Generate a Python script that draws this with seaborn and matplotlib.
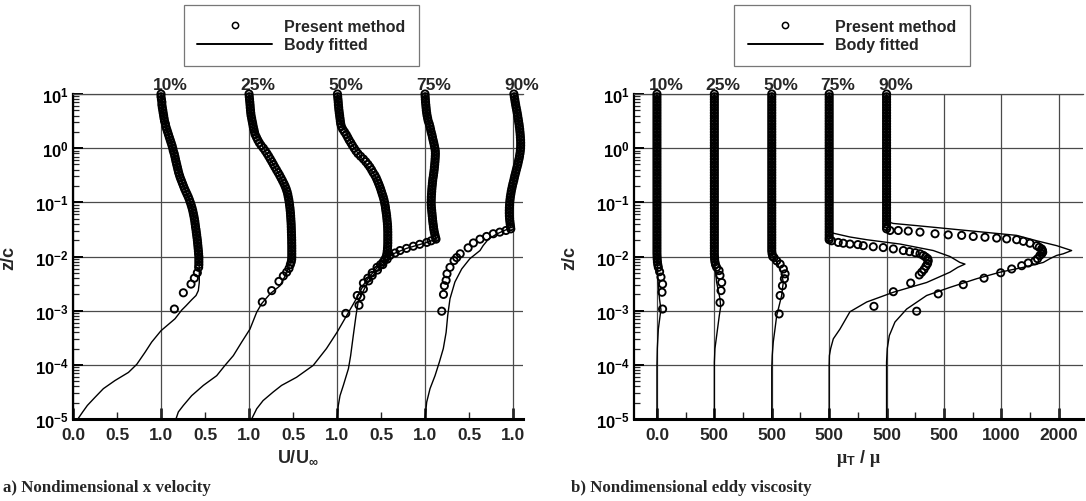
import numpy as np
import matplotlib
matplotlib.use("Agg")
import matplotlib.pyplot as plt
import matplotlib.ticker as mticker
from matplotlib.lines import Line2D
import seaborn as sns

sns.set_theme(style="white")
plt.rcParams["font.family"] = ["Liberation Sans", "DejaVu Sans"]
plt.rcParams["font.weight"] = "bold"
plt.rcParams["mathtext.fontset"] = "custom"
plt.rcParams["mathtext.rm"] = "Liberation Sans:bold"
plt.rcParams["mathtext.bf"] = "Liberation Sans:bold"
plt.rcParams["mathtext.it"] = "Liberation Serif"

# ---------------------------------------------------------------- data
STATIONS = ["10%", "25%", "50%", "75%", "90%"]

# log10(z/c) grid of the densely sampled "Present method" points
LOGZ_GRID = [1.00, 0.95, 0.90, 0.85, 0.80, 0.75, 0.70, 0.65, 0.60, 0.55,
             0.50, 0.45, 0.40, 0.35, 0.30, 0.25, 0.20, 0.15, 0.10, 0.05,
             0.00, -0.05, -0.10, -0.15, -0.20, -0.25, -0.30, -0.35, -0.40, -0.45,
             -0.50, -0.55, -0.60, -0.65, -0.70, -0.75, -0.80, -0.85, -0.90, -0.95,
             -1.00, -1.05, -1.10, -1.15, -1.20, -1.25, -1.30, -1.35, -1.40, -1.45,
             -1.50, -1.55, -1.60, -1.65, -1.70, -1.75, -1.80, -1.85, -1.90, -1.95,
             -2.00]

# ---- a) U/U_inf  -- Present method, dense part (on LOGZ_GRID)
U10_DENSE = [1.00, 1.00, 1.005, 1.01, 1.01, 1.015, 1.02, 1.025, 1.03, 1.035,
             1.04, 1.05, 1.055, 1.065, 1.075, 1.085, 1.095, 1.105, 1.115, 1.125,
             1.133, 1.14, 1.15, 1.157, 1.164, 1.171, 1.178, 1.186, 1.193, 1.20,
             1.21, 1.22, 1.232, 1.244, 1.256, 1.268, 1.282, 1.296, 1.31, 1.322,
             1.333, 1.343, 1.352, 1.36, 1.367, 1.373, 1.379, 1.384, 1.388, 1.392,
             1.397, 1.401, 1.405, 1.409, 1.413, 1.416, 1.419, 1.422, 1.425, 1.427,
             1.43]
U25_DENSE = [1.00, 1.003, 1.006, 1.009, 1.012, 1.014, 1.017, 1.02, 1.024, 1.03,
             1.036, 1.042, 1.048, 1.055, 1.062, 1.07, 1.085, 1.10, 1.117, 1.138,
             1.163, 1.185, 1.205, 1.224, 1.242, 1.26, 1.277, 1.294, 1.312, 1.33,
             1.348, 1.364, 1.38, 1.396, 1.41, 1.422, 1.432, 1.44, 1.446, 1.452,
             1.457, 1.461, 1.465, 1.468, 1.471, 1.473, 1.475, 1.477, 1.479, 1.48,
             1.481, 1.482, 1.483, 1.484, 1.485, 1.485, 1.486, 1.486, 1.486, 1.486,
             1.486]
U50_DENSE = [1.005, 1.008, 1.011, 1.014, 1.016, 1.019, 1.022, 1.026, 1.03, 1.034,
             1.038, 1.042, 1.05, 1.065, 1.085, 1.105, 1.122, 1.138, 1.157, 1.175,
             1.195, 1.215, 1.238, 1.268, 1.30, 1.327, 1.352, 1.374, 1.393, 1.41,
             1.43, 1.446, 1.459, 1.472, 1.484, 1.495, 1.505, 1.515, 1.525, 1.533,
             1.54, 1.546, 1.551, 1.555, 1.56, 1.564, 1.567, 1.57, 1.573, 1.575,
             1.576, 1.577, 1.577, 1.577, 1.577, 1.577, 1.576, 1.574, 1.571, 1.567,
             1.56]
U75_DENSE = [1.00, 1.002, 1.004, 1.006, 1.009, 1.012, 1.015, 1.019, 1.024, 1.03,
             1.037, 1.048, 1.056, 1.063, 1.07, 1.078, 1.085, 1.092, 1.099, 1.106,
             1.112, 1.117, 1.118, 1.117, 1.115, 1.113, 1.11, 1.107, 1.104, 1.10,
             1.096, 1.091, 1.087, 1.084, 1.081, 1.078, 1.076, 1.074, 1.072, 1.071,
             1.07, 1.071, 1.073, 1.076, 1.079, 1.082, 1.085, 1.088, 1.092, 1.096,
             1.10, 1.106, 1.113, 1.12]
U90_DENSE = [1.01, 1.015, 1.02, 1.025, 1.03, 1.036, 1.042, 1.048, 1.053, 1.058,
             1.063, 1.068, 1.072, 1.076, 1.079, 1.082, 1.084, 1.086, 1.087, 1.087,
             1.086, 1.083, 1.079, 1.074, 1.068, 1.061, 1.054, 1.046, 1.038, 1.03,
             1.022, 1.015, 1.008, 1.0, 0.993, 0.986, 0.98, 0.975, 0.97, 0.966,
             0.963, 0.961, 0.959, 0.958, 0.958, 0.959, 0.961, 0.964, 0.968, 0.972]

# ---- a) Present method, near-wall points
U10_WALL_LOGZ = [-2.05, -2.10, -2.15, -2.20, -2.30, -2.40, -2.51, -2.67, -2.97]
U10_WALL = [1.43, 1.43, 1.43, 1.428, 1.413, 1.379, 1.341, 1.254, 1.152]
U25_WALL_LOGZ = [-2.05, -2.10, -2.15, -2.22, -2.29, -2.36, -2.46, -2.63, -2.84]
U25_WALL = [1.485, 1.48, 1.47, 1.455, 1.428, 1.39, 1.34, 1.258, 1.151]
U50_WALL_LOGZ = [-2.05, -2.10, -2.15, -2.20, -2.30, -2.40, -2.49, -2.72, -3.05]
U50_WALL = [1.545, 1.525, 1.495, 1.455, 1.40, 1.35, 1.30, 1.23, 1.10]
U75_WALL_LOGZ = [-1.68, -1.71, -1.74, -1.775, -1.81, -1.85, -1.89, -1.935, -1.98,
                 -2.05, -2.15, -2.25, -2.35, -2.45, -2.6, -2.75, -2.9]
U75_WALL = [1.125, 1.07, 1.02, 0.94, 0.867, 0.79, 0.716, 0.66, 0.602,
            0.57, 0.52, 0.46, 0.40, 0.36, 0.30, 0.27, 0.25]
U90_WALL_LOGZ = [-1.49, -1.52, -1.55, -1.58, -1.63, -1.68, -1.75, -1.84, -1.95,
                 -2.02, -2.075, -2.2, -2.32, -2.44, -2.54, -2.70, -3.01]
U90_WALL = [0.975, 0.92, 0.85, 0.776, 0.70, 0.625, 0.55, 0.49, 0.40,
            0.36, 0.33, 0.284, 0.25, 0.24, 0.22, 0.21, 0.19]

# ---- a) Body fitted lines
U10_LINE_LOGZ = [1.0, 0.5, 0.0, -0.5, -1.0, -1.5, -2.0, -2.23, -2.48, -2.63, -2.72, -2.80,
                 -2.91, -2.99, -3.15, -3.37, -3.58, -3.77, -3.99, -4.14, -4.29, -4.44,
                 -4.60, -4.75, -4.87, -5.0]
U10_LINE = [1.0, 1.04, 1.133, 1.21, 1.333, 1.397, 1.43, 1.435, 1.435, 1.424, 1.398, 1.348,
            1.284, 1.235, 1.159, 1.0, 0.894, 0.818, 0.725, 0.63, 0.477, 0.345,
            0.25, 0.163, 0.11, 0.055]
U25_LINE_LOGZ = [1.0, 0.5, 0.0, -0.5, -1.0, -1.5, -2.0, -2.11, -2.30, -2.54, -2.69, -2.87,
                 -3.03, -3.34, -3.58, -3.83, -4.01, -4.20, -4.38, -4.57, -4.75, -4.87, -5.0]
U25_LINE = [1.0, 1.036, 1.163, 1.348, 1.457, 1.481, 1.486, 1.47, 1.43, 1.352, 1.239, 1.144,
            1.087, 1.011, 0.917, 0.822, 0.727, 0.633, 0.481, 0.348, 0.254, 0.197, 0.17]
U50_LINE_LOGZ = [1.0, 0.5, 0.0, -0.5, -1.0, -1.5, -2.0, -2.1, -2.2, -2.35, -2.5, -2.78,
                 -3.09, -3.40, -3.70, -4.01, -4.23, -4.38, -4.50, -4.66, -4.81, -5.0]
U50_LINE = [1.005, 1.038, 1.195, 1.43, 1.54, 1.576, 1.56, 1.52, 1.46, 1.38, 1.31, 1.22,
            1.11, 1.0, 0.88, 0.73, 0.54, 0.37, 0.276, 0.16, 0.088, 0.03]
U75_LINE_LOGZ = [1.0, 0.5, 0.0, -0.5, -1.0, -1.5, -1.65, -1.68, -1.75, -1.85, -1.95, -2.05,
                 -2.2, -2.4, -2.6, -2.84, -3.09, -3.46, -3.83, -4.07, -4.38, -4.57, -4.75, -5.0]
U75_LINE = [1.0, 1.037, 1.112, 1.096, 1.07, 1.10, 1.12, 1.13, 1.0, 0.79, 0.64, 0.57,
            0.49, 0.38, 0.31, 0.24, 0.216, 0.185, 0.155, 0.13, 0.072, 0.034, 0.015, 0.0]
U90_LINE_LOGZ = [1.0, 0.5, 0.0, -0.5, -1.0, -1.45, -1.5, -1.58, -1.68, -1.8, -1.89, -2.04,
                 -2.23, -2.47, -2.78, -3.09, -3.40, -3.70, -3.95, -4.2, -4.44, -4.69, -5.0]
U90_LINE = [1.01, 1.063, 1.086, 1.022, 0.963, 0.972, 0.93, 0.82, 0.72, 0.66, 0.625, 0.51,
            0.417, 0.34, 0.284, 0.258, 0.24, 0.208, 0.163, 0.114, 0.057, 0.019, 0.0]

# ---- b) mu_T/mu -- Present method, dense part (on LOGZ_GRID)
MU10_DENSE = [0, 0, 0, 0, 0, 0, 0, 0, 0, 0, 0, 0, 0, 0, 0, 0, 0, 0, 0, 0,
              0, 0, 0, 0, 0, 0, 0, 0, 0, 0, 0, 0, 0, 0, 0, 0, 0, 0, 0, 0,
              0, 0, 0, 0, 0, 0, 0, 0, 0, 0, 0, 0, 0, 0, 0, 0, 0, 0, 0, 0, 1]
MU25_DENSE = [0, 0, 0, 0, 0, 0, 0, 0, 0, 0, 0, 0, 0, 0, 0, 0, 0, 0, 0, 0,
              0, 0, 0, 0, 0, 0, 0, 0, 0, 0, 0, 0, 0, 0, 0, 0, 0, 0, 0, 0,
              0, 0, 0, 0, 0, 0, 0, 0, 0, 0, 0, 0, 0, 0, 0, 0, 0, 0, 0, 0, 1]
MU50_DENSE = [0, 0, 0, 0, 0, 0, 0, 0, 0, 0, 0, 0, 0, 0, 0, 0, 0, 0, 0, 0,
              0, 0, 0, 0, 0, 0, 0, 0, 0, 0, 0, 0, 0, 0, 0, 0, 0, 0, 0, 0,
              0, 0, 0, 0, 0, 0, 0, 0, 0, 0, 0, 0, 0, 0, 0, 0, 0, 0, 0, 3, 8]
MU75_DENSE = [0, 0, 0, 0, 0, 0, 0, 0, 0, 0, 0, 0, 0, 0, 0, 0, 0, 0, 0, 0,
              0, 0, 0, 0, 0, 0, 0, 0, 0, 0, 0, 0, 0, 0, 0, 0, 0, 0, 0, 0,
              0, 0, 0, 0, 0, 0, 0, 0, 0, 0, 0, 0, 0, 0]
MU90_DENSE = [0, 0, 0, 0, 0, 0, 0, 0, 0, 0, 0, 0, 0, 0, 0, 0, 0, 0, 0, 0,
              0, 0, 0, 0, 0, 0, 0, 0, 0, 0, 0, 0, 0, 0, 0, 0, 0, 0, 0, 0,
              0, 0, 0, 0, 0, 0, 0, 0, 0, 0]

# ---- b) Present method, near-wall / shear-layer points
MU10_WALL_LOGZ = [-2.05, -2.10, -2.15, -2.20, -2.28, -2.38, -2.51, -2.66, -2.97]
MU10_WALL = [2, 4, 7, 12, 23, 35, 49, 44, 49]
MU25_WALL_LOGZ = [-2.05, -2.10, -2.15, -2.20, -2.26, -2.35, -2.48, -2.63, -2.85]
MU25_WALL = [2, 5, 10, 20, 41, 49, 64, 58, 49]
MU50_WALL_LOGZ = [-2.02, -2.08, -2.14, -2.23, -2.32, -2.41, -2.54, -2.72, -3.06]
MU50_WALL = [20, 43, 73, 101, 116, 110, 93, 73, 64]
MU75_WALL_LOGZ = [-1.69, -1.71, -1.74, -1.755, -1.77, -1.78, -1.80, -1.82, -1.835, -1.86,
                  -1.89, -1.91, -1.93, -1.95, -1.98, -2.01, -2.04, -2.08, -2.13, -2.18,
                  -2.24, -2.29, -2.34, -2.49, -2.65, -2.92]
MU75_WALL = [0, 21, 79, 123, 181, 250, 297, 384, 471, 559,
             646, 700, 750, 791, 820, 840, 858, 863, 857, 843,
             826, 806, 785, 710, 559, 390]
MU90_WALL_LOGZ = [-1.49, -1.52, -1.52, -1.53, -1.55, -1.58, -1.60, -1.61, -1.63, -1.645,
                  -1.66, -1.675, -1.69, -1.72, -1.755, -1.80, -1.83, -1.86, -1.89, -1.92,
                  -1.95, -1.98, -2.04, -2.08, -2.12, -2.17, -2.23, -2.30, -2.40, -2.52,
                  -2.69, -3.01]
MU90_WALL = [0, 30, 102, 189, 291, 422, 537, 654, 755, 857,
             959, 1046, 1133, 1191, 1249, 1308, 1330, 1351, 1358, 1360,
             1352, 1336, 1315, 1293, 1234, 1177, 1090, 994, 849, 668,
             450, 262]

# ---- b) Body fitted lines
MU10_LINE_LOGZ = [1.0, -2.0, -2.2, -2.48, -2.78, -2.99, -3.05, -3.34, -3.7, -4.0, -5.0]
MU10_LINE = [0, 0, 4, 10, 22, 35, 30, 12, 3, 0, 0]
MU25_LINE_LOGZ = [1.0, -2.0, -2.25, -2.48, -2.78, -2.93, -3.09, -3.46, -3.70, -3.95, -5.0]
MU25_LINE = [0, 0, 8, 20, 49, 55, 43, 20, 5, 0, 0]
MU50_LINE_LOGZ = [1.0, -1.95, -2.11, -2.29, -2.48, -2.72, -2.97, -3.09, -3.34, -3.58,
                  -3.83, -4.07, -5.0]
MU50_LINE = [0, 0, 43, 86, 100, 86, 57, 43, 28, 13, 4, 0, 0]
MU75_LINE_LOGZ = [1.0, -1.52, -1.57, -1.64, -1.69, -1.73, -1.77, -1.83, -1.89, -2.0,
                  -2.11, -2.14, -2.20, -2.29, -2.48, -2.66, -2.84, -3.02, -3.34, -3.52,
                  -3.70, -3.83, -4.0, -5.0]
MU75_LINE = [0, 0, 36, 181, 327, 471, 617, 762, 907, 1052,
             1139, 1183, 1120, 1052, 849, 559, 327, 181, 94, 36,
             13, 2, 0, 0]
MU90_LINE_LOGZ = [1.0, -1.35, -1.39, -1.43, -1.49, -1.55, -1.61, -1.71, -1.80, -1.89,
                  -1.95, -1.98, -2.04, -2.11, -2.2, -2.29, -2.41, -2.57, -2.72, -2.97,
                  -3.21, -3.46, -3.70, -3.95, -5.0]
MU90_LINE = [0, 0, 58, 262, 552, 842, 1133, 1308, 1482, 1612,
             1539, 1482, 1423, 1365, 1191, 988, 785, 552, 349, 175,
             73, 24, 6, 0, 0]

# axis tick labels
A_MAJOR_TICKS = [0, 1, 2, 3, 4, 5]
A_MAJOR_LABELS = ["0.0", "1.0", "1.0", "1.0", "1.0", "1.0"]
A_MINOR_TICKS = [0.5, 1.5, 2.5, 3.5, 4.5]
A_MINOR_LABELS = ["0.5", "0.5", "0.5", "0.5", "0.5"]
B_MAJOR_TICKS = [0, 500, 1000, 1500, 2000, 2500, 3000, 3500]
B_MAJOR_LABELS = ["0.0", "500", "500", "500", "500", "500", "1000", "2000"]
Y_TICKS = [1e-5, 1e-4, 1e-3, 1e-2, 1e-1, 1e0, 1e1]
Y_LABELS = [r"$\mathbf{10^{-5}}$", r"$\mathbf{10^{-4}}$", r"$\mathbf{10^{-3}}$",
            r"$\mathbf{10^{-2}}$", r"$\mathbf{10^{-1}}$", r"$\mathbf{10^{0}}$",
            r"$\mathbf{10^{1}}$"]

A_DENSE = [U10_DENSE, U25_DENSE, U50_DENSE, U75_DENSE, U90_DENSE]
A_WALL = [(U10_WALL_LOGZ, U10_WALL), (U25_WALL_LOGZ, U25_WALL), (U50_WALL_LOGZ, U50_WALL),
          (U75_WALL_LOGZ, U75_WALL), (U90_WALL_LOGZ, U90_WALL)]
A_LINE = [(U10_LINE_LOGZ, U10_LINE), (U25_LINE_LOGZ, U25_LINE), (U50_LINE_LOGZ, U50_LINE),
          (U75_LINE_LOGZ, U75_LINE), (U90_LINE_LOGZ, U90_LINE)]
B_DENSE = [MU10_DENSE, MU25_DENSE, MU50_DENSE, MU75_DENSE, MU90_DENSE]
B_WALL = [(MU10_WALL_LOGZ, MU10_WALL), (MU25_WALL_LOGZ, MU25_WALL), (MU50_WALL_LOGZ, MU50_WALL),
          (MU75_WALL_LOGZ, MU75_WALL), (MU90_WALL_LOGZ, MU90_WALL)]
B_LINE = [(MU10_LINE_LOGZ, MU10_LINE), (MU25_LINE_LOGZ, MU25_LINE), (MU50_LINE_LOGZ, MU50_LINE),
          (MU75_LINE_LOGZ, MU75_LINE), (MU90_LINE_LOGZ, MU90_LINE)]

# ---------------------------------------------------------------- figure
W, H = 1086, 502
fig = plt.figure(figsize=(W / 100, H / 100), dpi=100)
axA = fig.add_axes([73 / W, 1 - 420 / H, 450 / W, 325 / H])
axB = fig.add_axes([634 / W, 1 - 420 / H, 449 / W, 325 / H])

GRID_C = "#4a4a4a"


def draw_panel(ax, dense, wall, line, step, label_dx):
    ax.set_yscale("log")
    for i in range(len(STATIONS)):
        off = i * step
        lz_l, v_l = line[i]
        sns.lineplot(x=off + np.array(v_l, float), y=10.0 ** np.array(lz_l, float),
                     sort=False, estimator=None, color="black", linewidth=1.0,
                     ax=ax, zorder=3)
        n = len(dense[i])
        lz = np.concatenate([np.array(LOGZ_GRID[:n], float), np.array(wall[i][0], float)])
        v = np.concatenate([np.array(dense[i], float), np.array(wall[i][1], float)])
        sns.scatterplot(x=off + v, y=10.0 ** lz, marker="o", s=27,
                        facecolor="none", edgecolor="black", linewidth=1.35,
                        ax=ax, zorder=4, clip_on=False)
    ax.set_ylim(1e-5, 10)
    ax.yaxis.set_major_locator(mticker.FixedLocator(Y_TICKS))
    ax.set_yticklabels(Y_LABELS)
    ax.yaxis.set_minor_locator(mticker.LogLocator(base=10, subs=np.arange(2, 10)))
    ax.yaxis.set_minor_formatter(mticker.NullFormatter())
    ax.grid(True, which="major", color=GRID_C, linewidth=0.9)
    ax.spines["right"].set_visible(False)
    ax.spines["top"].set_color(GRID_C)
    ax.spines["top"].set_linewidth(0.9)
    ax.spines["left"].set_linewidth(1.6)
    ax.spines["left"].set_color("black")
    ax.spines["bottom"].set_linewidth(2.2)
    ax.spines["bottom"].set_color("black")
    ax.tick_params(axis="y", which="major", direction="in", length=7, width=1.4,
                   labelsize=12, pad=3, left=True, right=False, colors="black")
    ax.tick_params(axis="y", which="minor", direction="in", length=4, width=0.9,
                   left=True, right=False)
    ax.tick_params(axis="x", which="major", direction="in", length=8, width=2.0,
                   labelsize=12.5, pad=6, bottom=True, top=False)
    ax.tick_params(axis="x", which="minor", direction="in", length=5, width=1.0,
                   labelsize=12.5, pad=6, bottom=True, top=False)
    ax.set_ylabel("z/c", fontsize=13, fontweight="bold", labelpad=0)
    ax.yaxis.set_label_coords(-0.125, 0.5)
    for i, st in enumerate(STATIONS):
        ax.annotate(st, xy=(i * step + label_dx, 1.0), xycoords=("data", "axes fraction"),
                    xytext=(9, 2), textcoords="offset pixels", ha="center", va="bottom",
                    fontsize=12.5, fontweight="bold")


# panel a): profile i sits at offset i, its U=1 reference at i+1
draw_panel(axA, A_DENSE, A_WALL, A_LINE, 1.0, 1.0)
axA.set_xlim(0.0, 450 / 88)
axA.set_xticks(A_MAJOR_TICKS, A_MAJOR_LABELS)
axA.set_xticks(A_MINOR_TICKS, A_MINOR_LABELS, minor=True)
axA.set_xlabel(r"$\mathbf{U/U_{\infty}}$", fontsize=13)
axA.xaxis.set_label_coords(0.5, -0.085)

# panel b): profile i starts at offset 500*i
draw_panel(axB, B_DENSE, B_WALL, B_LINE, 500.0, 0.0)
axB.set_xlim(-200, 3711)
axB.set_xticks(B_MAJOR_TICKS, B_MAJOR_LABELS)
axB.xaxis.set_minor_locator(mticker.FixedLocator([250, 750, 1250, 1750, 2250, 2750, 3250]))
axB.set_xlabel(r"$\mathit{\mu}_{\mathbf{T}}\ \mathbf{/}\ \mathit{\mu}$", fontsize=13)
axB.xaxis.set_label_coords(0.5, -0.085)

# legends
handles = [Line2D([], [], marker="o", linestyle="none", markerfacecolor="none",
                  markeredgecolor="black", markersize=4.5, markeredgewidth=1.1),
           Line2D([], [], color="black", linewidth=1.4)]
labels = ["Present method", "Body fitted"]
for cx in (301.5 / W, 852 / W):
    leg = fig.legend(handles, labels, loc="center", bbox_to_anchor=(cx, 1 - 36.5 / H),
                     frameon=True, fancybox=False, edgecolor="#555555",
                     prop={"weight": "bold", "size": 11.5}, handlelength=4.7,
                     handletextpad=0.75, borderpad=0.85, borderaxespad=0,
                     labelspacing=0.2)
    leg.get_frame().set_linewidth(0.9)

fig.text(3 / W, 1 - 488 / H, "a) Nondimensional x velocity", family="Liberation Serif",
         fontweight="bold", fontsize=12.2, va="center", ha="left")
fig.text(571 / W, 1 - 488 / H, "b) Nondimensional eddy viscosity", family="Liberation Serif",
         fontweight="bold", fontsize=12.2, va="center", ha="left")

fig.savefig("out.png", dpi=100)
